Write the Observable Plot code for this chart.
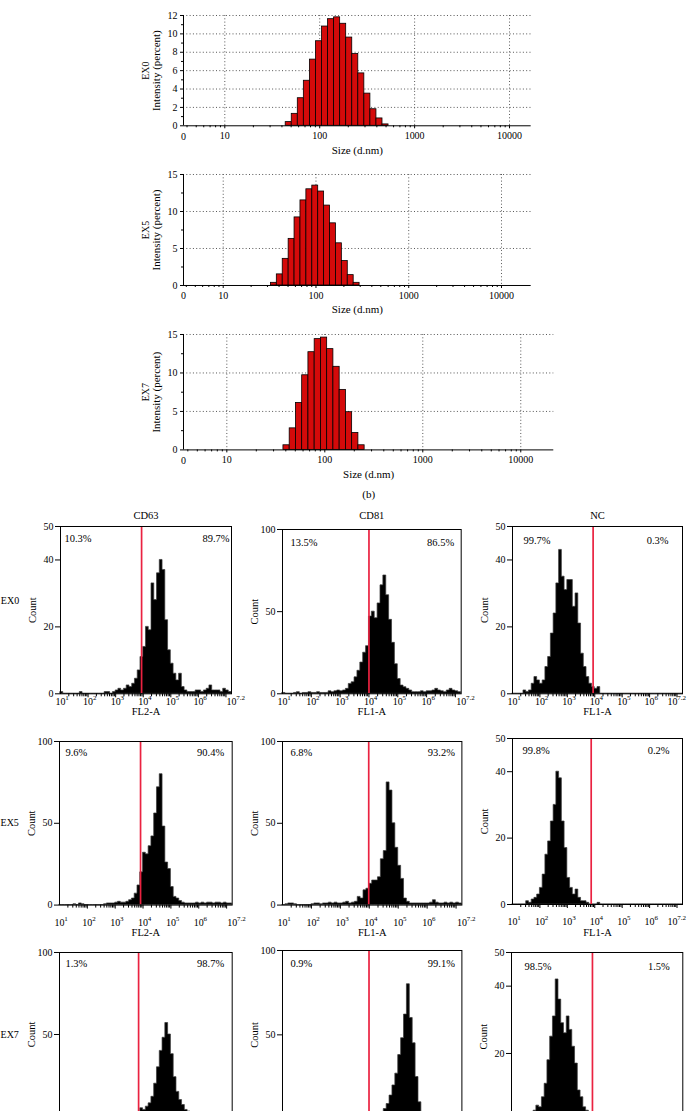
<!DOCTYPE html>
<html><head><meta charset="utf-8">
<script src="https://cdn.jsdelivr.net/npm/d3@7"></script>
<script src="https://cdn.jsdelivr.net/npm/@observablehq/plot@0.6"></script>
<style>
html,body{margin:0;padding:0;background:#fff;}
#page{position:relative;width:687px;height:1111px;overflow:hidden;background:#fff;}
#page svg{position:absolute;overflow:visible;}
</style></head><body><div id="page"></div>
<script>
// ---------------- DLS size distributions ----------------
const dlsSizeEdges = [28.21,32.67,37.84,43.82,50.75,58.77,68.06,78.82,91.28,105.7,122.4,141.8,164.2,190.1,220.2,255.0,295.3,342.0,396.1,458.7,531.2,615.1];
const ex0Intensity = [0,0,0,0.4,1.3,3.0,4.9,7.2,9.2,10.8,11.6,11.8,11.1,9.6,7.8,5.7,3.5,1.8,0.8,0.15,0];
const ex5Intensity = [0,0.36,1.5,3.6,6.3,9.2,11.5,13.0,13.5,12.7,10.8,8.4,5.7,3.3,1.4,0.36,0,0,0,0,0];
const ex7Intensity = [0,0,0.6,2.8,6.1,9.7,12.7,14.4,14.6,13.1,10.8,7.8,4.9,2.2,0.6,0,0,0,0,0,0];
const dlsMajorTicks = [10,100,1000,10000];
const dlsMinorTicks = [4,5,6,7,8,9,20,30,40,50,60,70,80,90,200,300,400,500,600,700,800,900,2000,3000,4000,5000,6000,7000,8000,9000];
const yTicks12 = [0,2,4,6,8,10,12], yMinor12 = [1,3,5,7,9,11];
const yTicks15 = [0,5,10,15], yMinor15 = [2.5,7.5,12.5];

// ---------------- Flow cytometry histograms (counts per 0.1-decade channel, log10 1.0 .. 7.2) ----------------
const ex0CD63 = [0.5,0,0,0,0,0,0,0.5,0,0, 0,0,0,0,0,0,0.5,0.5,0,0.5, 1,1.5,1,1.5,2.5,2,3,4.5,7,11, 14,20,19,33,28,36,40,37,22,13, 9,6,4,6,2,1,0.5,0.5,0.5,1, 1,0.5,1,1.5,2.5,1,1,1,0.5,1.5, 1,0.5];
const ex0CD81 = [0.5,0,0,0,0.5,1,0,0.5,0.5,1, 0.5,0.5,1,0.5,0.5,0.5,1.5,1,1.5,2, 1.5,2,3,6,7,10,14,19,25,29, 47,50,46,55,66,72,60,45,31,18, 9,5,4,3,2,1,1,1,1.5,1, 1.5,1.5,2,3,2,1.5,1,2,3,2, 1.5,1];
const ex0NC   = [0,0,0,0,1,0.5,1,3,5,4, 3,4,8,11,18,24,33,43,35,31, 34,34,26,30,21,12,8,5,3,2, 1.5,2,0,0,0,0,0,0,0,0, 0,0,0,0,0,0,0,0,0,0, 0,0,0,0,0,0,0,0,0,0, 0,0];
const ex5CD63 = [0,0,0,0,0,0.5,0,1,0.5,0, 0,0,0,0,0,0,0.5,1,1,1, 1.5,2,1.5,1.5,2,3,4,7,12,20, 32,31,36,42,56,72,80,48,26,22, 11,5,4,2.5,1.5,1,1,1,1,1.5, 1,1.5,1,1.5,1.5,1,1.5,1.5,1,1.5, 1,1];
const ex5CD81 = [0,0.5,1,1,0.5,0,0,0,0,0, 0.5,1,1,0.5,1,1,1.5,1,1.5,1, 1,1.5,2,1,1.5,2,5,4,9,10, 13,15,15,17,28,33,75,70,50,35, 24,16,4,2,1,1,1,1,1,1, 1,1.5,3,1.5,1,1,1.5,1,1.5,1, 1.5,1];
const ex5NC   = [0,0,0,0,0,1,0.5,1.5,2,3, 5,9,15,19,25,30,40,38,25,17, 8,5,3,4.5,2,1,1,0.5,0,0, 0,0.5,0,0,0,0,0,0,0,0, 0,0,0,0,0,0,0,0,0,0, 0,0,0,0,0,0,0,0,0,0, 0,0];
const ex7CD63 = [0.5,0,0,0,0.5,0,0,0.5,0,0, 0,0,0.5,0,0,0.5,0,0.5,0.5,0.5, 1,0.5,1,1,1,1.5,1,1.5,2,5, 4,6,8,12,20,30,40,48,57,50, 38,24,15,10,7,4,3,2,1,1, 1,0.5,1,0.5,1,0.5,1,0.5,1,0.5, 1,0.5];
const ex7CD81 = [0.5,0,0,0.5,0,0,0.5,0,0,0, 0,0.5,0,0,0.5,0,0,0.5,0,0.5, 0.5,0.5,1,0.5,1,1,1,1.5,1,1.5, 2,2,2.5,3,3,6,9,14,20,27, 38,48,62,80,60,45,25,10,4,2, 1.5,1,1,0.5,1,0.5,0.5,1,0.5,0.5, 0.5,0.5];
const ex7NC   = [0,0,0,0,0,0,1,1.5,3,4.5, 4,7,11,18,25,31,42,36,29,26, 31,27,22,17,9,7,4,3,2,1.5, 0.5,0,0,0,0,0,0,0,0,0, 0,0,0,0,0,0,0,0,0,0, 0,0,0,0,0,0,0,0,0,0, 0,0];
const flowLabelExponents = [1,2,3,4,5,6,7.2];
const flowMajorExponents = [2,3,4,5,6,7];
const flowTitles = ["CD63","CD81","NC"];
const flowXLabels = ["FL2-A","FL1-A","FL1-A"];
const flowRowLabels = ["EX0","EX5","EX7"];
const flowPercents = [["10.3%","89.7%"],["13.5%","86.5%"],["99.7%","0.3%"],
                      ["9.6%","90.4%"],["6.8%","93.2%"],["99.8%","0.2%"],
                      ["1.3%","98.7%"],["0.9%","99.1%"],["98.5%","1.5%"]];
const flowGates = [3.94,4.0,3.94, 3.91,3.98,3.87, 3.84,3.99,3.93];
const flowYMax = [50,100,50, 100,100,50, 100,100,50];
const flowYTicks = {50:[0,20,40,50], 100:[0,50,100]};

const FONT = '"Liberation Serif","Times New Roman",serif';
const BAR_RED = "#d40a0a";
const GATE_RED = "#ea2240";
const page = document.getElementById("page");

function place(svg, x, y) { svg.style.left = x + "px"; svg.style.top = y + "px"; page.appendChild(svg); }

function dlsChart({frame:[L,T,R,B], xlog0, xlog1, ymax, ymajor, yminor, values, rowLabel, caption}) {
  const mL = 58, mR = 14, mT = 8, mB = caption ? 54 : 34;
  const xmin = 10**xlog0, xmax = 10**xlog1;
  const bins = values.map((v,i)=>({lo: dlsSizeEdges[i], hi: dlsSizeEdges[i+1], v})).filter(d=>d.v>0);
  const marks = [
    Plot.ruleX(dlsMajorTicks.filter(d=>d<xmax), {stroke:"#555", strokeDasharray:"1,2.3"}),
    Plot.ruleY(ymajor.filter(d=>d>0), {stroke:"#555", strokeDasharray:"1,2.3"}),
    Plot.rect(bins, {x1:"lo", x2:"hi", y1:0, y2:"v", fill:BAR_RED, stroke:"#000", strokeWidth:0.8}),
    Plot.ruleX([xmin], {stroke:"#000"}),
    Plot.ruleY([0], {stroke:"#000"}),
    Plot.axisY(ymajor, {tickSize:3, tickPadding:3, tickFormat:d=>String(d), label:null, fontSize:10}),
    Plot.axisY(yminor, {tickSize:2, fill:"none", label:null}),
    Plot.axisX(dlsMajorTicks.filter(d=>d<xmax), {tickSize:3, tickPadding:3, tickFormat:d=>String(d), label:null, fontSize:10}),
    Plot.axisX(dlsMinorTicks.filter(d=>d>xmin && d<xmax), {tickSize:2, fill:"none", label:null}),
    Plot.text(["0"], {frameAnchor:"bottom-left", textAnchor:"middle", lineAnchor:"middle", dy:10.7, text:d=>d, fontSize:10}),
    Plot.text(["Intensity (percent)"], {frameAnchor:"left", rotate:-90, dx:-27, textAnchor:"middle", lineAnchor:"middle", text:d=>d, fontSize:11}),
    Plot.text([rowLabel], {frameAnchor:"left", rotate:-90, dx:-38, textAnchor:"middle", lineAnchor:"middle", text:d=>d, fontSize:10}),
    Plot.text(["Size (d.nm)"], {frameAnchor:"bottom", dy:24.4, lineAnchor:"middle", text:d=>d, fontSize:11})
  ];
  if (caption) marks.push(Plot.text([caption], {frameAnchor:"bottom", dy:44.3, lineAnchor:"middle", text:d=>d, fontSize:11}));
  const svg = Plot.plot({
    width: R-L+mL+mR, height: B-T+mT+mB,
    marginLeft:mL, marginRight:mR, marginTop:mT, marginBottom:mB,
    style:{fontFamily:FONT, fontSize:"10.5px", background:"transparent", color:"#000", overflow:"visible"},
    x:{type:"log", domain:[xmin,xmax]},
    y:{domain:[0,ymax]},
    marks
  });
  place(svg, L-mL, T-mT);
}

dlsChart({frame:[183,15,530.7,125.3], xlog0:0.565, xlog1:4.228, ymax:12, ymajor:yTicks12, yminor:yMinor12, values:ex0Intensity, rowLabel:"EX0"});
dlsChart({frame:[183,174.3,530.7,285.3], xlog0:0.572, xlog1:4.32, ymax:15, ymajor:yTicks15, yminor:yMinor15, values:ex5Intensity, rowLabel:"EX5"});
dlsChart({frame:[182.7,334.3,553,449.7], xlog0:0.558, xlog1:4.337, ymax:15, ymajor:yTicks15, yminor:yMinor15, values:ex7Intensity, rowLabel:"EX7", caption:"(b)"});

// flow panels
const flowFrames = [
  [60,526,231,693.3],[282.3,529,461,693.3],[511.7,526,681.7,693.3],
  [59.3,740.7,232,904.3],[282.3,740.7,461.7,904.3],[511.7,738.3,681.7,904.3],
  [59.3,952.3,232,1116.3],[282.3,950,461.7,1118.7],[511,951.7,682.3,1120]
];
const flowPctDx = [[4,-2],[8,-7],[11,-14],[6,-8],[8,-7],[10,-13],[6,-8],[8,-7],[13,-13]];
const flowPctDy = [12.3,13.3,14,11.6,11,12.4,11,13.3,14.3];
const flowTickDy = [7.8,17.4,17.4];
const flowLabelDy = [17.6,28,28];
const flowRowDy = [-9,-0.8,0];
const flowCounts = [ex0CD63,ex0CD81,ex0NC,ex5CD63,ex5CD81,ex5NC,ex7CD63,ex7CD81,ex7NC];
const flowMinorTicks = [];
for (let e = 1; e < 7; e++) for (let k = 2; k <= 9; k++) flowMinorTicks.push(k * 10**e);

function flowPanel(idx) {
  const row = Math.floor(idx/3), col = idx%3;
  const [L,T,R,B] = flowFrames[idx];
  const ymax = flowYMax[idx];
  const counts = flowCounts[idx];
  const mL = col === 0 ? 62 : 36, mR = 16, mT = 26, mB = 40;
  const pts = counts.map((c,i)=>({x: 10**(1 + i*0.1), y: c}));
  pts.push({x: 10**7.2, y: 0});
  const tdy = flowTickDy[row];
  const visibleBottom = row < 2;
  const yt = visibleBottom ? flowYTicks[ymax] : flowYTicks[ymax].filter(d=>d>0);
  const edgeShift = col === 2 ? -10 : 0; // keep the last label inside the page
  const marks = [
    Plot.areaY(pts, {x:"x", y:"y", curve:"step-after", fill:"#000", stroke:"#3a3a3a", strokeWidth:0.7}),
    Plot.ruleX([10**flowGates[idx]], {stroke:GATE_RED, strokeWidth:1.7}),
    Plot.frame({stroke:"#000", strokeWidth:1}),
    Plot.axisY(yt, {tickSize:5, tickPadding:2, tickFormat:d=>String(d), label:null, fontSize:10}),
    Plot.axisX(flowMajorExponents.map(e=>10**e), {tickSize:4, fill:"none", label:null}),
    Plot.axisX(flowMinorTicks, {tickSize:3, fill:"none", label:null}),
    Plot.text(["Count"], {frameAnchor:"left", rotate:-90, dx:-27.5, textAnchor:"middle", lineAnchor:"middle", text:d=>d, fontSize:10.5}),
    Plot.text([flowPercents[idx][0]], {frameAnchor:"top-left", textAnchor:"start", lineAnchor:"middle", dx:flowPctDx[idx][0], dy:flowPctDy[idx], text:d=>d, fontSize:10.5}),
    Plot.text([flowPercents[idx][1]], {frameAnchor:"top-right", textAnchor:"end", lineAnchor:"middle", dx:flowPctDx[idx][1], dy:flowPctDy[idx], text:d=>d, fontSize:10.5})
  ];
  if (visibleBottom) {
    const inner = flowLabelExponents.filter(e=>e<7), last = [7.2];
    marks.push(
      Plot.text(inner, {x:e=>10**e, frameAnchor:"bottom", lineAnchor:"middle", dy:tdy, text:()=>"10", fontSize:10}),
      Plot.text(inner, {x:e=>10**e, frameAnchor:"bottom", lineAnchor:"middle", textAnchor:"start", dy:tdy-3.8, dx:4.8, text:e=>String(e), fontSize:7}),
      Plot.text(last, {x:e=>10**e, frameAnchor:"bottom", lineAnchor:"middle", dy:tdy, dx:edgeShift, text:()=>"10", fontSize:10}),
      Plot.text(last, {x:e=>10**e, frameAnchor:"bottom", lineAnchor:"middle", textAnchor:"start", dy:tdy-3.8, dx:4.8+edgeShift, text:e=>String(e), fontSize:7}),
      Plot.text([flowXLabels[col]], {frameAnchor:"bottom", lineAnchor:"middle", dy:flowLabelDy[row], text:d=>d, fontSize:10.5})
    );
  }
  if (row === 0) marks.push(Plot.text([flowTitles[col]], {frameAnchor:"top", lineAnchor:"middle", dy:-11 - (T-526), text:d=>d, fontSize:10.5}));
  if (col === 0) marks.push(Plot.text([flowRowLabels[row]], {frameAnchor:"left", textAnchor:"middle", lineAnchor:"middle", dx:-(L-9.5), dy:flowRowDy[row], text:d=>d, fontSize:10}));
  const svg = Plot.plot({
    width: R-L+mL+mR, height: B-T+mT+mB,
    marginLeft:mL, marginRight:mR, marginTop:mT, marginBottom:mB,
    style:{fontFamily:FONT, fontSize:"10.5px", background:"transparent", color:"#000", overflow:"visible"},
    x:{type:"log", domain:[10, 10**7.2]},
    y:{domain:[0, ymax]},
    marks
  });
  place(svg, L-mL, T-mT);
}
for (let i = 0; i < 9; i++) flowPanel(i);
</script></body></html>
